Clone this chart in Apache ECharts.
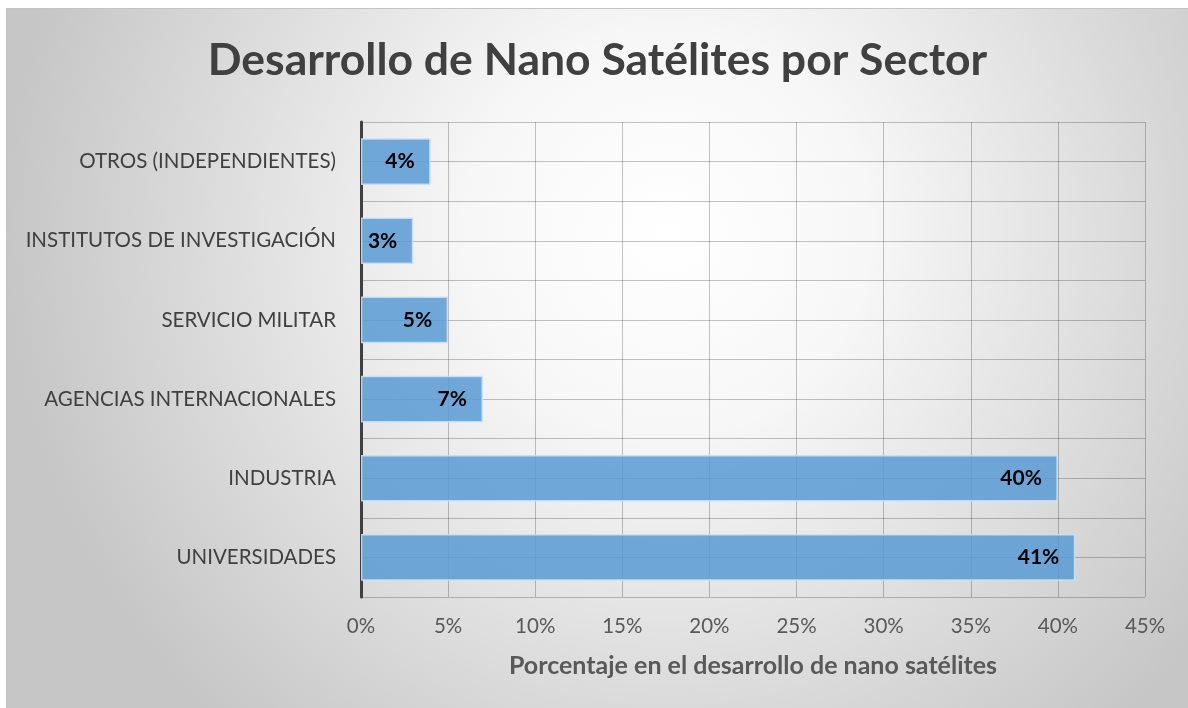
<!DOCTYPE html>
<html>
<head>
<meta charset="utf-8">
<script src="https://cdn.jsdelivr.net/npm/echarts@6/dist/echarts.min.js"></script>
<style>
  html, body { margin: 0; padding: 0; background: #fff; }
  #chart {
    position: absolute; left: 6px; top: 8px; width: 1182px; height: 700px;
    box-sizing: border-box; border-top: 1px solid #c4c4c4; border-left: 1px solid #c4c4c4;
  }
</style>
</head>
<body>
<div id="chart"></div>
<script>
// sectores, de arriba hacia abajo
let sectors = ['OTROS (INDEPENDIENTES)', 'INSTITUTOS DE INVESTIGACIÓN', 'SERVICIO MILITAR',
  'AGENCIAS INTERNACIONALES', 'INDUSTRIA', 'UNIVERSIDADES']
let shares = [4, 3, 5, 7, 40, 41]
let xMax = 45
let xStep = 5

let font = 'Lato, "Open Sans", sans-serif'

let chartDom = document.getElementById('chart')
let myChart = echarts.init(chartDom)

let option = {
  backgroundColor: {
    type: 'radial', x: 0.56, y: 0.32, r: 0.95,
    colorStops: [
      {offset: 0, color: '#ffffff'},
      {offset: 0.3, color: '#f7f7f7'},
      {offset: 1, color: '#c6c6c6'}
    ]
  },
  textStyle: {fontFamily: font},
  title: {
    text: 'Desarrollo de Nano Satélites por Sector',
    left: 'center',
    top: 24,
    textStyle: {fontSize: 44.5, fontWeight: 'bold', color: '#404040', fontFamily: font}
  },
  grid: {left: 354, top: 113, right: 43, bottom: 111},
  xAxis: {
    type: 'value',
    min: 0, max: xMax, interval: xStep,
    name: 'Porcentaje en el desarrollo de nano satélites',
    nameLocation: 'middle',
    nameGap: 56,
    nameTextStyle: {fontSize: 25, fontWeight: 'bold', color: '#595959', fontFamily: font},
    axisLine: {show: false},
    axisTick: {show: false},
    axisLabel: {formatter: '{value}%', fontSize: 20.5, color: '#595959', margin: 19},
    splitLine: {show: true, lineStyle: {color: 'rgba(0,0,0,0.23)', width: 1}}
  },
  yAxis: [
    {
      type: 'category',
      data: sectors,
      inverse: true,
      axisLine: {show: true, lineStyle: {color: '#404040', width: 3}},
      axisTick: {show: false},
      axisLabel: {fontSize: 20.5, color: '#404040', margin: 25},
      splitLine: {show: false}
    },
    {
      // lineas horizontales cada media categoria
      type: 'value',
      min: 0, max: sectors.length, interval: 0.5,
      axisLine: {show: false},
      axisTick: {show: false},
      axisLabel: {show: false},
      splitLine: {show: true, lineStyle: {color: 'rgba(0,0,0,0.23)', width: 1}}
    }
  ],
  series: [
    {
      type: 'bar',
      yAxisIndex: 0,
      data: shares,
      barWidth: '59%',
      itemStyle: {
        color: 'rgba(91,155,213,0.86)',
        borderColor: 'rgba(200,224,245,0.9)',
        borderWidth: 1.5
      },
      label: {
        show: true,
        position: 'insideRight',
        distance: 16,
        formatter: '{c}%',
        fontSize: 21,
        fontWeight: 'bold',
        color: '#000000',
        fontFamily: font
      }
    }
  ]
}

myChart.setOption(option)
</script>
</body>
</html>
